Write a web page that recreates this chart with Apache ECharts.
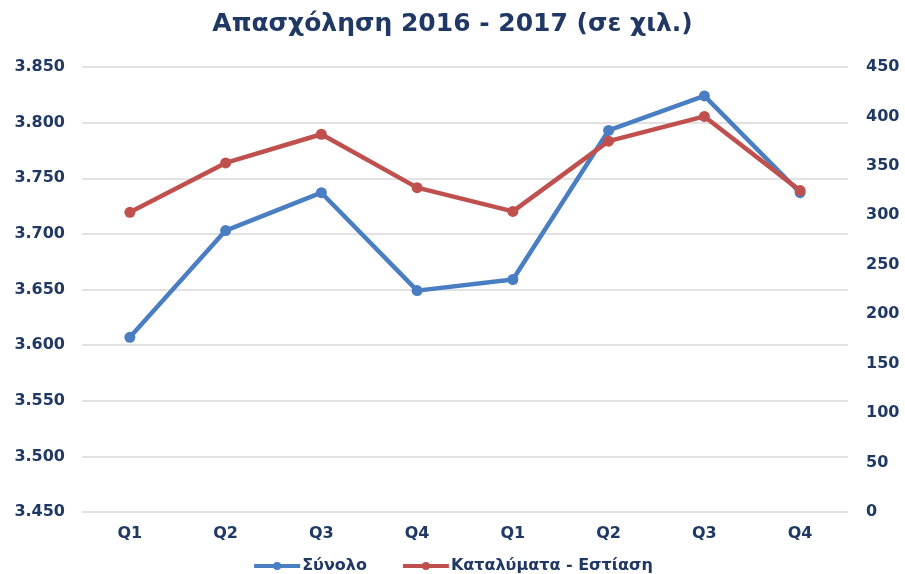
<!DOCTYPE html>
<html>
<head>
<meta charset="utf-8">
<script src="https://cdn.jsdelivr.net/npm/echarts@6/dist/echarts.min.js"></script>
<style>html,body{margin:0;padding:0;background:#fff}#c{width:905px;height:574px}</style>
</head>
<body>
<div id="c"></div>
<script>
const categories = ['Q1','Q2','Q3','Q4','Q1','Q2','Q3','Q4'];
const synolo = [3607, 3703, 3737, 3649, 3659, 3793, 3824, 3737];
const katalymata = [303, 353, 382, 328, 304, 375, 400, 325];
const seriesNames = ['Σύνολο', 'Καταλύματα - Εστίαση'];
const titleText = 'Απασχόληση 2016 - 2017 (σε χιλ.)';

const navy = '#1F3864';
const font = 'DejaVu Sans';
const chart = echarts.init(document.getElementById('c'));
chart.setOption({
  animation: false,
  title: {
    text: titleText, left: 'center', top: 7,
    textStyle: {fontFamily: font, fontSize: 25, fontWeight: 'bold', color: navy}
  },
  legend: {
    data: seriesNames, top: 553, left: 'center', itemWidth: 46, itemHeight: 10, itemGap: 34,
    lineStyle: {width: 4},
    textStyle: {fontFamily: font, fontSize: 16, fontWeight: 'bold', color: navy, padding: [0, 0, 0, -3]}
  },
  grid: {left: 82, right: 57, top: 67, bottom: 62},
  xAxis: {
    type: 'category', data: categories, boundaryGap: true,
    axisLine: {show: false}, axisTick: {show: false},
    axisLabel: {fontFamily: font, fontSize: 16, fontWeight: 'bold', color: navy, margin: 14}
  },
  yAxis: [{
    type: 'value', min: 3450, max: 3850, interval: 50,
    axisLine: {show: false}, axisTick: {show: false},
    splitLine: {lineStyle: {color: '#D9D9D9', width: 1.5}},
    axisLabel: {fontFamily: font, fontSize: 16, fontWeight: 'bold', color: navy, margin: 17,
      formatter: v => String(v).replace(/(\d)(\d{3})$/, '$1.$2')}
  }, {
    type: 'value', min: 0, max: 450, interval: 50,
    axisLine: {show: false}, axisTick: {show: false}, splitLine: {show: false},
    axisLabel: {fontFamily: font, fontSize: 16, fontWeight: 'bold', color: navy, margin: 18}
  }],
  series: [{
    name: seriesNames[0], type: 'line', data: synolo, yAxisIndex: 0,
    symbol: 'circle', symbolSize: 11,
    lineStyle: {width: 4.5, color: '#4A7EC2'}, itemStyle: {color: '#4A7EC2'}
  }, {
    name: seriesNames[1], type: 'line', data: katalymata, yAxisIndex: 1,
    symbol: 'circle', symbolSize: 11,
    lineStyle: {width: 4.5, color: '#C0504D'}, itemStyle: {color: '#C0504D'}
  }]
});
</script>
</body>
</html>
